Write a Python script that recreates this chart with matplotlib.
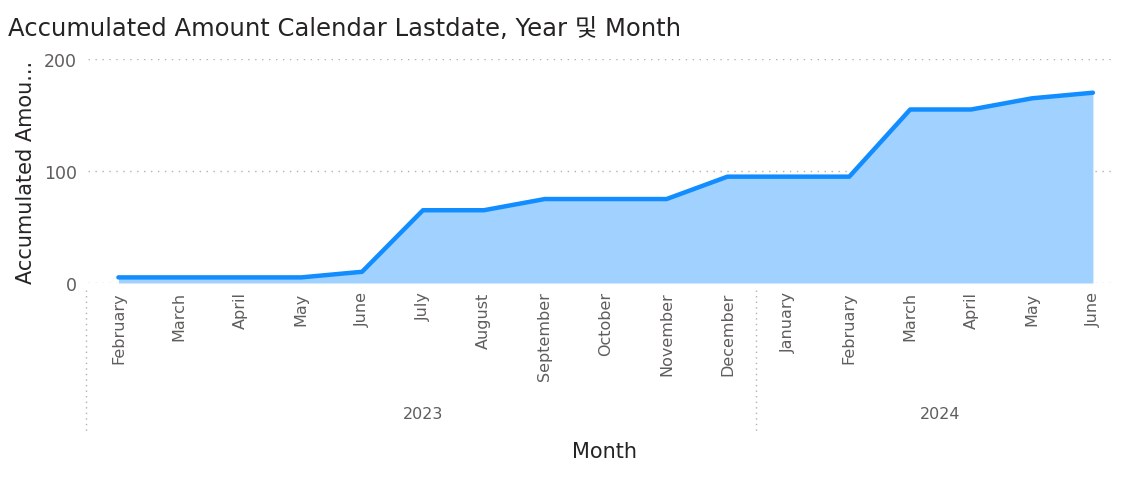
import matplotlib
matplotlib.use("Agg")
from matplotlib import pyplot as plt
from matplotlib import transforms

months = ["February", "March", "April", "May", "June", "July", "August",
          "September", "October", "November", "December",
          "January", "February", "March", "April", "May", "June"]
years = ["2023", "2024"]
year_counts = [11, 6]
amount = [5, 5, 5, 5, 10, 65, 65, 75, 75, 75, 95, 95, 95, 155, 155, 165, 170]

plt.rcParams['font.family'] = ['DejaVu Sans', 'Noto Sans CJK KR']

fig = plt.figure(figsize=(11.22, 4.81), dpi=100)
ax = fig.add_axes([0.0784, 0.4096, 0.9136, 0.4654])

xs = list(range(len(amount)))
ax.fill_between(xs, amount, 0, color='#A0D1FF', linewidth=0)
ax.plot(xs, amount, color='#118DFF', linewidth=3.2, solid_capstyle='round', solid_joinstyle='round')

ax.set_xlim(-0.5, 16.33)
ax.set_ylim(0, 200)
ax.set_yticks([0, 100, 200])
ax.grid(axis='y', color='#B3B0AD', linestyle=(0, (1, 4)), linewidth=1)
ax.set_axisbelow(True)
for s in ax.spines.values():
    s.set_visible(False)

ax.set_xticks(xs)
ax.set_xticklabels(months, rotation=90, color='#605E5C', fontsize=11.5)
ax.tick_params(axis='x', length=0, pad=6)
ax.tick_params(axis='y', length=0, pad=8, labelcolor='#605E5C', labelsize=12.5)

# year groups and separators
trans = transforms.blended_transform_factory(ax.transData, ax.transAxes)
start = -0.5
bounds = [start]
for name, n in zip(years, year_counts):
    end = start + n
    right = min(end, 16.48)
    ax.text((start + right) / 2, -0.585, name, transform=trans, ha='center', va='center',
            color='#605E5C', fontsize=11.5, clip_on=False)
    bounds.append(end)
    start = end
for b in bounds[:-1]:
    ax.plot([b - 0.03, b - 0.03], [-0.03, -0.665], transform=trans, color='#B3B0AD',
            linestyle=(0, (1, 3)), linewidth=1, clip_on=False)

ax.set_ylabel("Accumulated Amou...", fontsize=15, color='#252423', labelpad=6)
fig.text(0.539, 0.06, "Month", ha='center', va='center', fontsize=15, color='#252423')
fig.text(0.007, 0.94, "Accumulated Amount Calendar Lastdate, Year 및 Month", ha='left', va='center',
         fontsize=17.5, color='#252423')

fig.savefig("out.png", dpi=100)
